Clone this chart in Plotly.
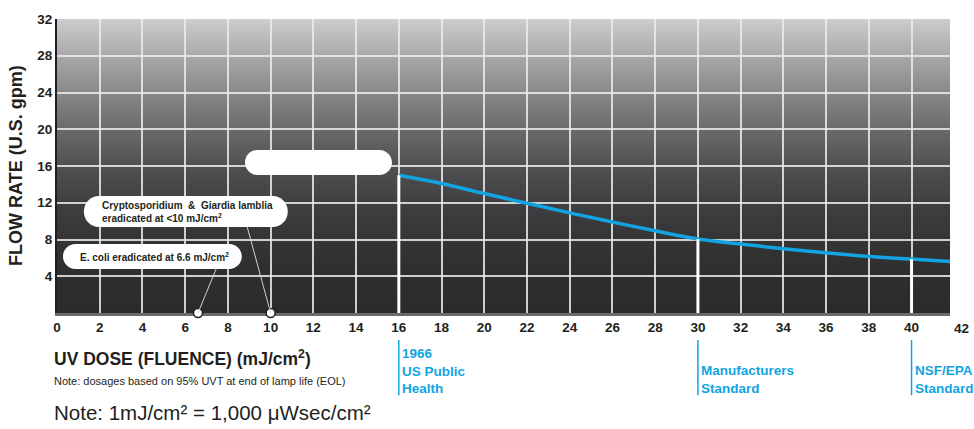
import base64
import struct
import zlib
import plotly.graph_objects as go

# ---------------- data ----------------
dose = [16, 18, 20, 22, 24, 26, 28, 30, 32, 34, 36, 38, 40, 41.8]
flow = [15.0, 14.1, 13.0, 11.95, 10.9, 9.9, 8.95, 8.05, 7.5, 7.0, 6.55, 6.15, 5.87, 5.6]

x_ticks = [0, 2, 4, 6, 8, 10, 12, 14, 16, 18, 20, 22, 24, 26, 28, 30, 32, 34, 36, 38, 40]
y_ticks = [4, 8, 12, 16, 20, 24, 28, 32]
x_last_tick = 42

pathogen_doses = [6.6, 10]
pathogen_labels = ["E. coli eradicated at 6.6 mJ/cm<sup>2</sup>",
                   "Cryptosporidium  &  Giardia lamblia<br>eradicated at &lt;10 mJ/cm<sup>2</sup>"]

standard_doses = [16, 30, 40]
standard_labels = ["1966<br>US Public<br>Health", "Manufacturers<br>Standard", "NSF/EPA<br>Standard"]

# ---------------- style ----------------
FONT = "Liberation Sans, Arial, Helvetica, sans-serif"
INK = "#231f20"
BLUE = "#12a4e2"
X_MAX = 41.8
Y_MAX = 32

# background gradient (style only): fraction from top -> colour
grad_stops = [(0.0, (0xcc, 0xcc, 0xce)), (0.125, (0xa8, 0xa8, 0xaa)), (0.25, (0x88, 0x88, 0x8a)),
              (0.375, (0x6a, 0x6a, 0x6c)), (0.5, (0x51, 0x51, 0x53)), (0.625, (0x40, 0x40, 0x42)),
              (0.75, (0x35, 0x35, 0x36)), (0.875, (0x2f, 0x2e, 0x2f)), (1.0, (0x2c, 0x2a, 0x2b))]


def grad_png(stops, h=128, w=2):
    rows = []
    for i in range(h):
        t = i / (h - 1)
        for k in range(len(stops) - 1):
            if stops[k][0] <= t <= stops[k + 1][0]:
                a, ca = stops[k]
                b, cb = stops[k + 1]
                f = (t - a) / (b - a) if b > a else 0
                c = tuple(int(round(ca[j] + (cb[j] - ca[j]) * f)) for j in range(3))
                break
        rows.append(b"\x00" + bytes(c) * w)
    raw = b"".join(rows)

    def chunk(tag, data):
        return struct.pack(">I", len(data)) + tag + data + struct.pack(">I", zlib.crc32(tag + data) & 0xffffffff)

    png = (b"\x89PNG\r\n\x1a\n" + chunk(b"IHDR", struct.pack(">IIBBBBB", w, h, 8, 2, 0, 0, 0))
           + chunk(b"IDAT", zlib.compress(raw)) + chunk(b"IEND", b""))
    return "data:image/png;base64," + base64.b64encode(png).decode()


PX_X = 893 / X_MAX   # px per unit (plot area width)
PX_Y = 294 / Y_MAX


def pill(x0, x1, y0, y1, r_px):
    rx = r_px / PX_X
    ry = r_px / PX_Y
    k = 0.552
    return (f"M{x0+rx},{y0} L{x1-rx},{y0} C{x1-rx+k*rx},{y0} {x1},{y0+ry-k*ry} {x1},{y0+ry} "
            f"L{x1},{y1-ry} C{x1},{y1-ry+k*ry} {x1-rx+k*rx},{y1} {x1-rx},{y1} "
            f"L{x0+rx},{y1} C{x0+rx-k*rx},{y1} {x0},{y1-ry+k*ry} {x0},{y1-ry} "
            f"L{x0},{y0+ry} C{x0},{y0+ry-k*ry} {x0+rx-k*rx},{y0} {x0+rx},{y0} Z")


fig = go.Figure()

# curve
fig.add_trace(go.Scatter(x=dose, y=flow, mode="lines", line=dict(color=BLUE, width=3.5, shape="spline"),
                         hoverinfo="skip", showlegend=False))

# white drop lines at standards
drop_x, drop_y = [], []
for d in standard_doses:
    v = flow[dose.index(d)]
    drop_x += [d, d, None]
    drop_y += [0, v, None]
fig.add_trace(go.Scatter(x=drop_x, y=drop_y, mode="lines", line=dict(color="white", width=3),
                         hoverinfo="skip", showlegend=False))

shapes = []
# leader lines
shapes.append(dict(type="line", xref="x", yref="y", x0=7.45, y0=4.8, x1=pathogen_doses[0], y1=0,
                   line=dict(color="#d0d0d0", width=1), layer="above"))
shapes.append(dict(type="line", xref="x", yref="y", x0=8.9, y0=9.4, x1=pathogen_doses[1], y1=0,
                   line=dict(color="#d0d0d0", width=1), layer="above"))
# white callout boxes
shapes.append(dict(type="path", xref="x", yref="y", path=pill(8.8, 15.68, 15.02, 17.74, 12.5),
                   fillcolor="white", line=dict(width=0), layer="above"))
shapes.append(dict(type="path", xref="x", yref="y", path=pill(1.26, 10.8, 9.36, 12.73, 15),
                   fillcolor="white", line=dict(width=0), layer="above"))
shapes.append(dict(type="path", xref="x", yref="y", path=pill(0.28, 8.65, 4.79, 7.51, 12.5),
                   fillcolor="white", line=dict(width=0), layer="above"))
# blue standard markers under the axis
for d in standard_doses:
    shapes.append(dict(type="line", xref="x", yref="paper", x0=d, x1=d, y0=-0.092, y1=-0.28,
                       line=dict(color=BLUE, width=1.5)))

# pathogen circles
fig.add_trace(go.Scatter(x=pathogen_doses, y=[0, 0], mode="markers",
                         marker=dict(color="white", size=9, line=dict(color=INK, width=1.5)),
                         cliponaxis=False, hoverinfo="skip", showlegend=False))

annotations = []
annotations.append(dict(text="<b>" + pathogen_labels[0] + "</b>", xref="x", yref="y", x=0.98, y=6.1,
                        xanchor="left", yanchor="middle", showarrow=False, align="left",
                        font=dict(family=FONT, size=10, color=INK)))
annotations.append(dict(text="<b>" + pathogen_labels[1] + "</b>", xref="x", yref="y", x=2.0, y=11.0,
                        xanchor="left", yanchor="middle", showarrow=False, align="left",
                        font=dict(family=FONT, size=10, color=INK)))
for d, lab in zip(standard_doses, standard_labels):
    annotations.append(dict(text="<b>" + lab + "</b>", xref="x", yref="paper", x=d, y=0, xshift=1,
                            yshift=-85, xanchor="left", yanchor="bottom", showarrow=False, align="left",
                            font=dict(family=FONT, size=13.5, color=BLUE)))
# tick label "42" just past the right end of the plot area
annotations.append(dict(text=f"<b>{x_last_tick}</b>", xref="paper", yref="paper", x=1, y=0, yshift=-15,
                        xshift=11, xanchor="center", yanchor="middle", showarrow=False,
                        font=dict(family=FONT, size=13.5, color=INK, weight="bold")))
annotations.append(dict(text="<b>FLOW RATE (U.S. gpm)</b>", xref="paper", yref="paper", x=0, y=0.5,
                        xshift=-41, textangle=-90, showarrow=False, xanchor="center", yanchor="middle",
                        font=dict(family=FONT, size=18, color=INK)))
annotations.append(dict(text="<b>UV DOSE (FLUENCE) (mJ/cm<sup>2</sup>)</b>", xref="paper", yref="paper",
                        x=0, y=0, xshift=-5, yshift=-45, xanchor="left", yanchor="middle", showarrow=False,
                        font=dict(family=FONT, size=17.5, color=INK)))
annotations.append(dict(text="Note: dosages based on 95% UVT at end of lamp life (EOL)", xref="paper",
                        yref="paper", x=0, y=0, xshift=-5, yshift=-68, xanchor="left", yanchor="middle",
                        showarrow=False, font=dict(family=FONT, size=11, color=INK)))
annotations.append(dict(text="Note: 1mJ/cm² = 1,000 μWsec/cm²", xref="paper", yref="paper",
                        x=0, y=0, xshift=-5, yshift=-99, xanchor="left", yanchor="middle",
                        showarrow=False, font=dict(family=FONT, size=20.5, color=INK)))

fig.update_layout(
    width=974, height=429,
    margin=dict(l=57, r=24, t=19, b=116),
    paper_bgcolor="white", plot_bgcolor="#2c2a2b",
    showlegend=False,
    shapes=shapes, annotations=annotations,
    images=[dict(source=grad_png(grad_stops), xref="x", yref="y", x=0, y=Y_MAX, sizex=X_MAX, sizey=Y_MAX,
                 sizing="stretch", xanchor="left", yanchor="top", layer="below")],
    xaxis=dict(range=[0, X_MAX], tickvals=x_ticks, ticktext=[f"<b>{t}</b>" for t in x_ticks],
               showgrid=True, gridcolor="rgba(235,235,235,0.85)", gridwidth=1.5, zeroline=False,
               showline=True, linecolor="#6a6a6a", linewidth=3, ticks="", layer="below traces",
               tickfont=dict(family=FONT, size=13.5, color=INK), fixedrange=True, automargin=False),
    yaxis=dict(range=[0, Y_MAX], tickvals=y_ticks, ticktext=[f"<b>{t}</b>" for t in y_ticks],
               showgrid=True, gridcolor="rgba(235,235,235,0.85)", gridwidth=1.5, zeroline=False,
               showline=True, linecolor=INK, linewidth=2, ticks="",
               tickfont=dict(family=FONT, size=13.5, color=INK), fixedrange=True, automargin=False),
)

# remove the default 8px page margin so the figure sits at the window's top-left corner
fig.write_html("out.html", config={"displayModeBar": False},
               post_script="document.body.style.margin='0';")
